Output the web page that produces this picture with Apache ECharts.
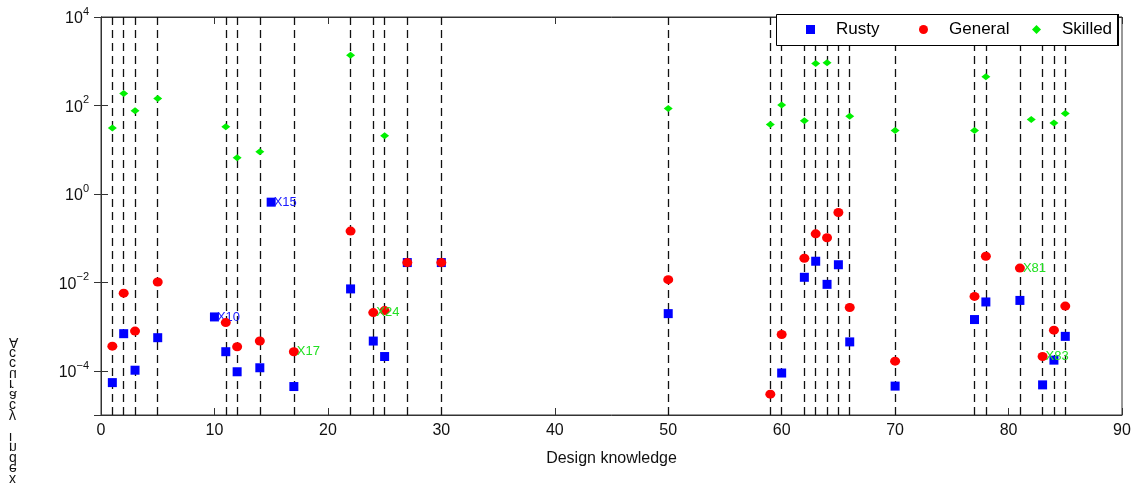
<!DOCTYPE html>
<html>
<head>
<meta charset="utf-8">
<script src="https://cdn.jsdelivr.net/npm/echarts@6/dist/echarts.min.js"></script>
<style>
  html, body { margin: 0; padding: 0; background: #fff; }
  #chart { width: 1135px; height: 486px; }
</style>
</head>
<body>
<div id="chart"></div>
<script>
// ---- data ----
const positions = [1, 2, 3, 5, 10, 11, 12, 14, 15, 17, 22, 24, 25, 27, 30, 50, 59, 60, 62, 63, 64, 65, 66, 70, 77, 78, 81, 82, 83, 84, 85];
const rusty   = [5.4e-5, 6.9e-4, 1.03e-4, 5.6e-4, 1.65e-3, 2.7e-4, 9.5e-5, 1.17e-4, 0.65, 4.4e-5, 7.1e-3, 4.7e-4, 2.1e-4, 2.8e-2, 2.8e-2, 1.96e-3, null, 8.9e-5, 1.3e-2, 3.0e-2, 9.0e-3, 2.5e-2, 4.5e-4, 4.5e-5, 1.44e-3, 3.6e-3, 3.9e-3, null, 4.8e-5, 1.74e-4, 6.0e-4];
const general = [3.6e-4, 5.7e-3, 7.9e-4, 1.02e-2, null, 1.23e-3, 3.5e-4, 4.7e-4, null, 2.7e-4, 0.144, 2.07e-3, 2.3e-3, 2.8e-2, 2.8e-2, 1.15e-2, 2.96e-5, 6.6e-4, 3.5e-2, 0.125, 0.102, 0.38, 2.7e-3, 1.65e-4, 4.8e-3, 3.9e-2, 2.1e-2, null, 2.1e-4, 8.3e-4, 2.9e-3];
const skilled = [31, 186, 76, 143, null, 33, 6.6, 9, null, null, 1370, null, 20.6, null, null, 85, 37, 102, 45, 890, 920, null, 57, 27, 27, 445, null, 48, null, 40, 66];
const guideLines = [1, 2, 3, 5, 11, 12, 14, 17, 22, 24, 25, 27, 30, 50, 59, 60, 62, 63, 64, 65, 66, 70, 77, 78, 81, 83, 84, 85];
const annotations = [
  { series: 'Rusty',   x: 10, text: 'X10', color: '#1a1aff' },
  { series: 'Rusty',   x: 15, text: 'X15', color: '#1a1aff' },
  { series: 'General', x: 17, text: 'X17', color: '#22e022' },
  { series: 'General', x: 24, text: 'X24', color: '#22e022' },
  { series: 'General', x: 81, text: 'X81', color: '#22e022' },
  { series: 'General', x: 83, text: 'X83', color: '#22e022' }
];
const seriesNames = ['Rusty', 'General', 'Skilled'];
const legendIcons = ['rect', 'circle', 'diamond'];
const xTitle = 'Design knowledge';
const yTitle = 'Accuracy index';

const FONT = '"Liberation Sans", Arial, Helvetica, sans-serif';
const colors = { Rusty: '#0000ff', General: '#ff0000', Skilled: '#00f000' };

function buildData(name, values) {
  const out = [];
  positions.forEach((x, i) => {
    const v = values[i];
    if (v == null) return;
    const ann = annotations.find(a => a.series === name && a.x === x);
    const item = { value: [x, v] };
    if (ann) {
      item.label = {
        show: true, position: 'right', distance: -2, formatter: ann.text,
        color: ann.color, fontSize: 13, fontFamily: FONT
      };
    }
    out.push(item);
  });
  return out;
}

const supLabel = {
  formatter: function (v) {
    const e = Math.round(Math.log10(v));
    return '{b|10}{s|' + (e < 0 ? '\u2212' : '') + Math.abs(e) + '}';
  },
  rich: {
    b: { fontSize: 16, color: '#111', fontFamily: FONT, padding: [4, 0, 0, 0] },
    s: { fontSize: 11, color: '#111', fontFamily: FONT, padding: [0, 0, 10, 0] }
  }
};

const chart = echarts.init(document.getElementById('chart'), null, { renderer: 'canvas' });
const axisColor = '#333';

// one legend component per entry so each sits where the reference puts it
const legendLefts = [806, 919, 1032];
const legends = seriesNames.map((name, i) => ({
  data: [{ name: name, icon: legendIcons[i] }],
  left: legendLefts[i], top: 21,
  orient: 'horizontal',
  itemWidth: 9, itemHeight: 9,
  padding: 0,
  selectedMode: false,
  textStyle: { fontSize: 17, color: '#000', fontFamily: FONT, padding: [0, 0, 0, 16] },
  z: 10
}));

const option = {
  animation: false,
  backgroundColor: '#fff',
  textStyle: { fontFamily: FONT },
  grid: { left: 101, right: 13, top: 17, bottom: 71, show: true, borderColor: axisColor, borderWidth: 1 },
  legend: legends,
  xAxis: [
    {
      type: 'value', min: 0, max: 90, interval: 10, position: 'bottom',
      axisLine: { show: true, lineStyle: { color: axisColor } },
      axisTick: { show: true, inside: true, length: 7, lineStyle: { color: axisColor } },
      axisLabel: { fontSize: 16, color: '#111', margin: 8, fontFamily: FONT },
      splitLine: { show: false },
      name: xTitle, nameLocation: 'middle', nameGap: 36,
      nameTextStyle: { fontSize: 16, color: '#111', fontFamily: FONT }
    },
    {
      type: 'value', min: 0, max: 90, interval: 10, position: 'top',
      axisLine: { show: true, lineStyle: { color: axisColor } },
      axisTick: { show: true, inside: true, length: 7, lineStyle: { color: axisColor } },
      axisLabel: { show: false }, splitLine: { show: false }
    }
  ],
  yAxis: [
    {
      type: 'log', logBase: 100, min: 1e-5, max: 1e4, position: 'left',
      axisLine: { show: true, lineStyle: { color: axisColor } },
      axisTick: { show: true, inside: true, length: 7, lineStyle: { color: axisColor } },
      axisLabel: Object.assign({ margin: 12, showMinLabel: false }, supLabel),
      splitLine: { show: false }
    },
    {
      type: 'log', logBase: 100, min: 1e-5, max: 1e4, position: 'right',
      axisLine: { show: true, lineStyle: { color: axisColor } },
      axisTick: { show: true, inside: true, length: 7, lineStyle: { color: axisColor } },
      axisLabel: { show: false }, splitLine: { show: false }
    }
  ],
  series: [
    {
      name: 'Rusty', type: 'scatter', symbol: 'rect', symbolSize: 9,
      itemStyle: { color: colors.Rusty, opacity: 1 },
      data: buildData('Rusty', rusty),
      z: 3,
      markLine: {
        silent: true, symbol: ['none', 'none'], z: 1,
        label: { show: false },
        emphasis: { disabled: true },
        lineStyle: { color: '#111', width: 1.3, type: [8, 5] },
        data: guideLines.map(x => ({ xAxis: x }))
      }
    },
    {
      name: 'General', type: 'scatter', symbol: 'circle', symbolSize: [10, 9],
      itemStyle: { color: colors.General, opacity: 1 },
      data: buildData('General', general), z: 4
    },
    {
      name: 'Skilled', type: 'scatter', symbol: 'diamond', symbolSize: [9, 7],
      itemStyle: { color: colors.Skilled, opacity: 1 },
      data: buildData('Skilled', skilled), z: 5
    }
  ],
  graphic: [
    {
      type: 'rect', z: 8, silent: true,
      shape: { x: 776.5, y: 14.5, width: 341, height: 31 },
      style: { fill: '#fff', stroke: '#000', lineWidth: 1 }
    },
    {
      type: 'line', z: 9, silent: true,
      shape: { x1: 1118, y1: 14, x2: 1118, y2: 46 },
      style: { stroke: '#000', lineWidth: 2 }
    },
    {
      type: 'text', x: 9, y: 484, scaleY: -1, silent: true,
      style: {
        text: yTitle.split('').reverse().join('\n'),
        font: '14px ' + FONT, fill: '#111', lineHeight: 10.5
      }
    }
  ]
};
chart.setOption(option);
</script>
</body>
</html>
